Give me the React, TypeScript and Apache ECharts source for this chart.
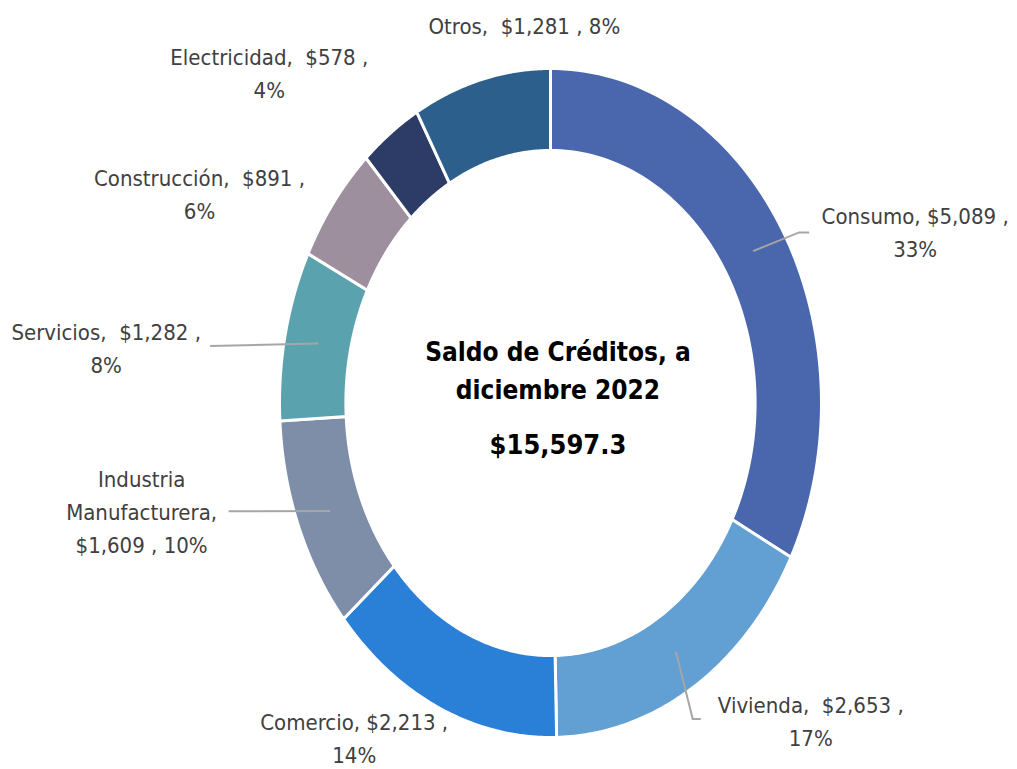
import React, { useEffect, useRef } from "react";
import * as echarts from "echarts";

// ---- data ----
const categories = ["Consumo", "Vivienda", "Comercio", "Industria\nManufacturera", "Servicios", "Construcción", "Electricidad", "Otros"];
const values = [5089, 2653, 2213, 1609, 1282, 891, 578, 1281];
const colors = ["#4a67ad", "#629fd2", "#2a7fd6", "#7f8ea8", "#5aa3ae", "#9e8f9e", "#2d3c67", "#2c5f8c"];
const titleLines = "Saldo de Créditos, a\ndiciembre 2022";
const totalLabel = "$15,597.3";

// ---- layout (label placement relative to slice mid-point on outer ellipse) ----
const labelOffsets: number[][] = [[133, 4], [117, 35], [-85, 31], [-157, -14], [-179, 14], [-134, -8], [-121, -59], [43, -53]];
const valueSeps = [" ", "  ", " ", "\n", "  ", "  ", "  ", "  "];
const pctSeps = ["\n", "\n", "\n", " ", "\n", "\n", "\n", " "];
const leaders: (number[][] | null)[] = [
  [[-116, -1], [-106, -1]],
  [[-118, -3], [-110, -3]],
  null,
  [[87, -1]],
  [[104, -3]],
  null,
  null,
  null,
];

const CX = 550.5;
const CY = 403;
const RX = 271;
const RY = 334.5;
const INNER = 0.755;
const LEADER_R = 0.875;
const LABEL_FONT = "'Liberation Sans Narrow', 'DejaVu Sans Condensed', Roboto, sans-serif";

const total = values.reduce((a, b) => a + b, 0);
const starts: number[] = [];
{
  let acc = 0;
  values.forEach((v) => {
    starts.push(acc);
    acc += v;
  });
}

function fmt(n: number) {
  return n.toLocaleString("en-US");
}

export default function App() {
  const ref = useRef<HTMLDivElement>(null);
  useEffect(() => {
    if (!ref.current) return;
    const chart = echarts.init(ref.current, null, { renderer: "svg" });
    const renderItem = (params: any, api: any) => {
      const i = params.dataIndex;
      const s = api.value(0) as number;
      const v = api.value(1) as number;
      const t0 = (s / total) * Math.PI * 2;
      const t1 = ((s + v) / total) * Math.PI * 2;
      const N = 80;
      const pts: number[][] = [];
      for (let k = 0; k <= N; k++) {
        const t = t0 + ((t1 - t0) * k) / N;
        pts.push([CX + RX * Math.sin(t), CY - RY * Math.cos(t)]);
      }
      for (let k = N; k >= 0; k--) {
        const t = t0 + ((t1 - t0) * k) / N;
        pts.push([CX + RX * INNER * Math.sin(t), CY - RY * INNER * Math.cos(t)]);
      }
      const tm = (t0 + t1) / 2;
      const ox = CX + RX * Math.sin(tm);
      const oy = CY - RY * Math.cos(tm);
      const lx = ox + labelOffsets[i][0];
      const ly = oy + labelOffsets[i][1];
      const pct = Math.round((v / total) * 100) + "%";
      const text = `${categories[i]},${valueSeps[i]}$${fmt(v)} ,${pctSeps[i]}${pct}`;
      const children: any[] = [
        {
          type: "polygon",
          shape: { points: pts },
          style: { fill: colors[i], stroke: "#ffffff", lineWidth: 3 },
        },
      ];
      const lead = leaders[i];
      if (lead) {
        const lp: number[][] = [[CX + RX * LEADER_R * Math.sin(tm), CY - RY * LEADER_R * Math.cos(tm)]];
        lead.forEach((p) => lp.push([lx + p[0], ly + p[1]]));
        children.push({
          type: "polyline",
          shape: { points: lp },
          style: { stroke: "#a6a6a6", lineWidth: 2, fill: null },
        });
      }
      children.push({
        type: "text",
        x: lx,
        y: ly,
        style: {
          text,
          fill: "#404040",
          fontSize: 22,
          fontFamily: LABEL_FONT,
          lineHeight: 33,
          align: "center",
          verticalAlign: "middle",
        },
      });
      return { type: "group", children };
    };
    chart.setOption({
      animation: false,
      backgroundColor: "#ffffff",
      series: [
        {
          type: "custom",
          coordinateSystem: "none",
          renderItem,
          data: values.map((v, i) => ({ name: categories[i], value: [starts[i], v] })),
        },
      ],
      graphic: [
        {
          type: "text",
          x: 558,
          y: 371,
          style: {
            text: titleLines,
            fill: "#000000",
            fontSize: 26,
            fontWeight: "bold",
            fontFamily: LABEL_FONT,
            lineHeight: 38,
            align: "center",
            verticalAlign: "middle",
          },
        },
        {
          type: "text",
          x: 558,
          y: 444,
          style: {
            text: totalLabel,
            fill: "#000000",
            fontSize: 27,
            fontWeight: "bold",
            fontFamily: LABEL_FONT,
            align: "center",
            verticalAlign: "middle",
          },
        },
      ],
    });
    return () => chart.dispose();
  }, []);
  return (
    <div
      ref={ref}
      style={{ position: "fixed", left: 0, top: 0, width: 1017, height: 769, background: "#fff" }}
    />
  );
}
